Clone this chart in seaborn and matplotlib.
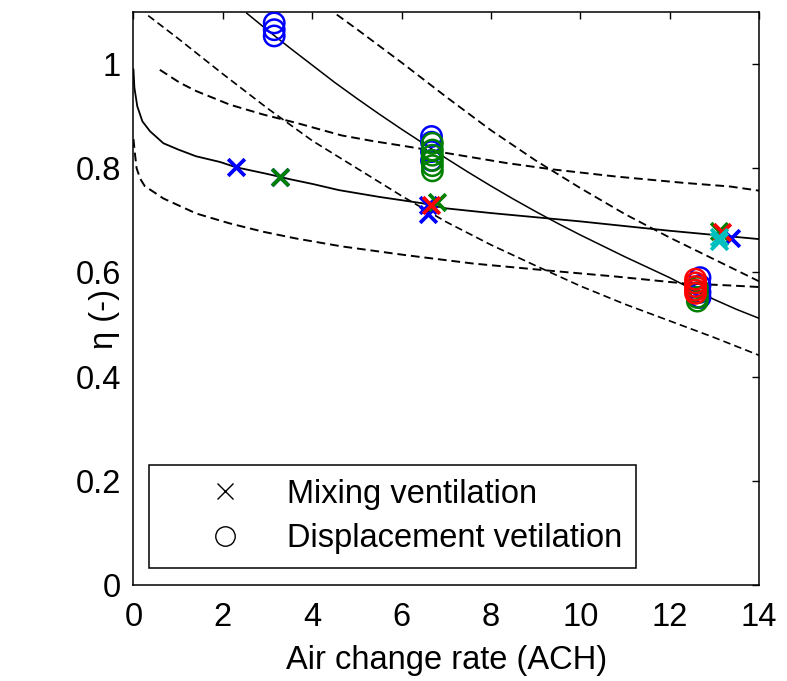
import matplotlib
matplotlib.use("Agg")
import matplotlib.pyplot as plt
from matplotlib.lines import Line2D
import seaborn as sns

# Model curves: ventilation effectiveness vs. air change rate
mix_fit_ach = [0.0, 0.02, 0.085, 0.2, 0.37, 0.67, 1.0, 1.4, 1.94, 2.29, 3.0, 3.5, 4.0, 4.6, 5.5,
               6.45, 7.0, 8.0, 9.0, 10.0, 11.0, 12.0, 13.0, 14.0]
mix_fit_eta = [0.99, 0.955, 0.919, 0.89, 0.871, 0.848, 0.836, 0.823, 0.812, 0.802, 0.789, 0.779,
               0.770, 0.758, 0.745, 0.733, 0.723, 0.714, 0.706, 0.698, 0.689, 0.680, 0.672, 0.664]

mix_low_ach = [0.0, 0.03, 0.07, 0.15, 0.25, 0.67, 1.41, 2.16, 2.91, 3.65, 4.66, 6.11, 7.61,
               9.36, 10.81, 12.31, 13.35, 14.0]
mix_low_eta = [0.856, 0.83, 0.80, 0.78, 0.766, 0.742, 0.713, 0.694, 0.678, 0.665, 0.650, 0.633,
               0.617, 0.603, 0.592, 0.579, 0.575, 0.572]

mix_high_ach = [0.59, 1.04, 1.41, 2.16, 2.91, 3.65, 4.66, 5.37, 6.11, 7.23, 8.35, 9.36, 10.81,
                12.31, 13.35, 14.0]
mix_high_eta = [0.989, 0.964, 0.948, 0.922, 0.903, 0.887, 0.863, 0.852, 0.842, 0.826, 0.810,
                0.798, 0.784, 0.772, 0.765, 0.757]

disp_fit_ach = [2.53, 3.0, 3.5, 4.0, 4.5, 5.0, 5.5, 6.0, 6.5, 7.0, 7.5, 8.0, 8.5, 9.0, 9.5, 10.0,
                10.5, 11.0, 11.5, 12.0, 12.5, 13.0, 13.5, 14.0]
disp_fit_eta = [1.098, 1.065, 1.031, 0.998, 0.965, 0.934, 0.904, 0.875, 0.847, 0.819, 0.792,
                0.766, 0.741, 0.717, 0.694, 0.672, 0.651, 0.630, 0.610, 0.590, 0.568, 0.548,
                0.529, 0.512]

disp_low_ach = [0.33, 1.0, 2.0, 3.0, 4.0, 5.0, 6.0, 7.0, 8.0, 9.0, 10.0, 11.0, 12.0, 13.0, 14.0]
disp_low_eta = [1.093, 1.049, 0.981, 0.915, 0.853, 0.800, 0.747, 0.697, 0.653, 0.613, 0.574,
                0.539, 0.507, 0.475, 0.441]

disp_high_ach = [4.55, 5.0, 6.0, 7.0, 8.0, 9.0, 10.0, 11.0, 12.0, 13.0, 14.0]
disp_high_eta = [1.095, 1.067, 1.003, 0.937, 0.873, 0.815, 0.762, 0.712, 0.667, 0.625, 0.583]

# Measured points, mixing ventilation (crosses)
mv_blue_ach = [2.29, 3.28, 6.59, 6.59, 13.37]
mv_blue_eta = [0.802, 0.784, 0.729, 0.712, 0.666]
mv_green_ach = [3.28, 6.79, 13.10]
mv_green_eta = [0.784, 0.736, 0.680]
mv_red_ach = [6.67, 13.17]
mv_red_eta = [0.729, 0.678]
mv_cyan_ach = [13.10, 13.10]
mv_cyan_eta = [0.660, 0.668]

# Measured points, displacement ventilation (circles)
dv_blue_ach = [3.15, 3.15, 3.15, 6.67, 6.67, 6.67, 6.67, 12.68, 12.68, 12.68, 12.68]
dv_blue_eta = [1.079, 1.066, 1.054, 0.861, 0.850, 0.832, 0.815, 0.590, 0.575, 0.562, 0.552]
dv_green_ach = [6.69, 6.69, 6.69, 6.69, 6.69, 6.69, 12.62, 12.62, 12.62, 12.62]
dv_green_eta = [0.848, 0.835, 0.825, 0.815, 0.805, 0.795, 0.571, 0.561, 0.552, 0.545]
dv_red_ach = [12.58, 12.58, 12.58, 12.58, 12.58]
dv_red_eta = [0.587, 0.580, 0.573, 0.566, 0.560]

x_ticks = [0, 2, 4, 6, 8, 10, 12, 14]
y_ticks = [0, 0.2, 0.4, 0.6, 0.8, 1.0]
y_tick_labels = ["0", "0.2", "0.4", "0.6", "0.8", "1"]

sns.set_style("white")
plt.rcParams["font.family"] = ["Liberation Sans", "DejaVu Sans"]
plt.rcParams["text.color"] = "black"
plt.rcParams["axes.labelcolor"] = "black"
FS = 23.5

fig = plt.figure(figsize=(7.87, 6.81), dpi=100)
ax = fig.add_axes([0.1696, 0.141, 0.7948, 0.8414])

dash = (0, (4.5, 2.5))
for xs, ys, ls, lw in [
    (mix_fit_ach, mix_fit_eta, "-", 1.3),
    (mix_low_ach, mix_low_eta, dash, 1.4),
    (mix_high_ach, mix_high_eta, dash, 1.4),
    (disp_fit_ach, disp_fit_eta, "-", 1.1),
    (disp_low_ach, disp_low_eta, dash, 1.2),
    (disp_high_ach, disp_high_eta, dash, 1.3),
]:
    sns.lineplot(x=xs, y=ys, ax=ax, color="black", linestyle=ls, linewidth=lw,
                 estimator=None, sort=False)

for xs, ys, c in [
    (dv_blue_ach, dv_blue_eta, "#0000ff"),
    (dv_green_ach, dv_green_eta, "#008000"),
    (dv_red_ach, dv_red_eta, "#ff0000"),
]:
    sns.scatterplot(x=xs, y=ys, ax=ax, marker="o", s=215, color=c,
                    facecolor="none", edgecolor=c, linewidth=1.8, zorder=3)

for xs, ys, c in [
    (mv_blue_ach, mv_blue_eta, "#0000ff"),
    (mv_green_ach, mv_green_eta, "#008000"),
    (mv_red_ach, mv_red_eta, "#ff0000"),
    (mv_cyan_ach, mv_cyan_eta, "#00bfbf"),
]:
    sns.scatterplot(x=xs, y=ys, ax=ax, marker="x", s=145, color=c, linewidth=2.7, zorder=4)

ax.set_xlim(0, 14)
ax.set_ylim(0, 1.1)
ax.set_xticks(x_ticks)
ax.set_xticklabels([str(t) for t in x_ticks])
ax.set_yticks(y_ticks)
ax.set_yticklabels(y_tick_labels)
ax.tick_params(direction="in", length=5, width=1.0, top=True, right=True,
               labelsize=FS, colors="black")
ax.tick_params(axis="x", pad=12)
ax.tick_params(axis="y", pad=9)
for sp in ax.spines.values():
    sp.set_color("black")
    sp.set_linewidth(1.1)

ax.set_xlabel("Air change rate (ACH)", fontsize=FS, color="black")
ax.set_ylabel("η (-)", fontsize=FS, color="black")
ax.yaxis.set_label_coords(-0.022, 0.465)
ax.xaxis.set_label_coords(0.5, -0.105)

handles = [
    Line2D([], [], linestyle="none", marker="x", color="black", markersize=11, markeredgewidth=1.0),
    Line2D([], [], linestyle="none", marker="o", color="black", markerfacecolor="none",
           markersize=14, markeredgewidth=1.0),
]
leg = ax.legend(handles, ["Mixing ventilation", "Displacement vetilation"],
                loc="lower left", bbox_to_anchor=(0.0248, 0.0297), borderaxespad=0,
                fontsize=FS, frameon=True, fancybox=False, edgecolor="black",
                framealpha=1.0, handlelength=3.8, handletextpad=0.0, borderpad=0.42,
                labelspacing=0.42, labelcolor="black")
leg.get_frame().set_linewidth(1.1)

fig.savefig("out.png", dpi=100)
